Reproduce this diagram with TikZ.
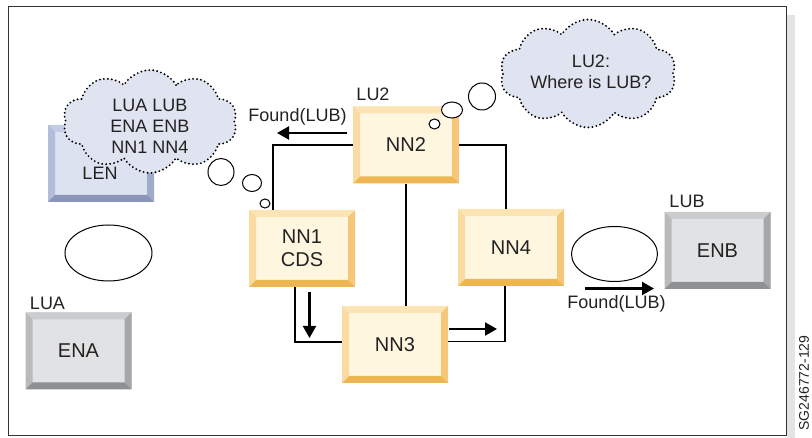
\documentclass[tikz,border=0pt]{standalone}
\usepackage{fontspec}
\setmainfont{Liberation Sans}
\usetikzlibrary{shapes.symbols,shapes.geometric,arrows.meta,calc}
\definecolor{yface}{HTML}{FFF6E0}
\definecolor{ytop}{HTML}{FCE4B4}
\definecolor{yleft}{HTML}{FADCA2}
\definecolor{yright}{HTML}{F4C878}
\definecolor{ybot}{HTML}{EDB652}
\definecolor{gface}{HTML}{E1E2E4}
\definecolor{gtop}{HTML}{CBCCCE}
\definecolor{gleft}{HTML}{B9BABC}
\definecolor{gright}{HTML}{A6A7A9}
\definecolor{gbot}{HTML}{8F9092}
\definecolor{bface}{HTML}{DCE2F0}
\definecolor{btop}{HTML}{C4CDE3}
\definecolor{bleft}{HTML}{B2BDD9}
\definecolor{bright}{HTML}{9FABCB}
\definecolor{bbot}{HTML}{8A95B8}
\definecolor{cloudfill}{HTML}{DFE4F0}
\definecolor{txt}{HTML}{222222}
\definecolor{framecol}{HTML}{333333}
\definecolor{shadowcol}{HTML}{E4E4E4}
\begin{document}
\begin{tikzpicture}[x=1pt,y=-1pt,
  bev/.style n args={5}{draw=none, fill=#1, rectangle, minimum width=106pt, minimum height=77pt, inner sep=0pt,
    text=txt, font=\fontsize{20}{23}\selectfont, align=center,
    path picture={
      \fill[#2] (path picture bounding box.north west) -- (path picture bounding box.north east)
        -- ([shift={(-7pt,-7pt)}]path picture bounding box.north east)
        -- ([shift={(7pt,-7pt)}]path picture bounding box.north west) -- cycle;
      \fill[#3] (path picture bounding box.north west) -- ([shift={(7pt,-7pt)}]path picture bounding box.north west)
        -- ([shift={(7pt,7pt)}]path picture bounding box.south west)
        -- (path picture bounding box.south west) -- cycle;
      \fill[#4] (path picture bounding box.north east) -- ([shift={(-7pt,-7pt)}]path picture bounding box.north east)
        -- ([shift={(-7pt,7pt)}]path picture bounding box.south east)
        -- (path picture bounding box.south east) -- cycle;
      \fill[#5] (path picture bounding box.south west) -- ([shift={(7pt,7pt)}]path picture bounding box.south west)
        -- ([shift={(-7pt,7pt)}]path picture bounding box.south east)
        -- (path picture bounding box.south east) -- cycle;
    }},
  ybox/.style={bev={yface}{ytop}{yleft}{yright}{ybot}},
  gbox/.style={bev={gface}{gtop}{gleft}{gright}{gbot}},
  bbox/.style={bev={bface}{btop}{bleft}{bright}{bbot}},
  lbl/.style={text=txt, font=\fontsize{18}{21}\selectfont, inner sep=0pt, align=center},
  conn/.style={draw=black, line width=1.6pt},
  arr/.style={draw=black, line width=2.2pt, -{Triangle[length=12pt,width=13pt]}},
  bubble/.style={ellipse, draw=black, line width=1pt, fill=white, inner sep=0pt},
  thought/.style={cloud, cloud puffs=10, cloud puff arc=120, cloud ignores aspect, fill=cloudfill,
    draw=black, line width=2.1pt, dash pattern=on 0pt off 4pt, line cap=round, inner sep=0pt}
]
\useasboundingbox (0,0) rectangle (812,438);
% frame
\fill[shadowcol] (787,15) rectangle (795,438);
\draw[framecol, line width=1pt] (8,7) rectangle (786,436);
\node[lbl, rotate=90, font=\fontsize{14}{17}\selectfont] (code) at (804,383) {SG246772-129};

% boxes
\node[bbox] (LEN) at (101,163.5) {};
\node[ybox] (NN2) at (406,145) {NN2};
\node[ybox] (NN1) at (302,248.5) {NN1\\CDS};
\node[ybox] (NN4) at (511,247.5) {NN4};
\node[ybox] (NN3) at (395,344.5) {NN3};
\node[gbox] (ENB) at (717.5,250.5) {ENB};
\node[gbox] (ENA) at (78.5,351) {ENA};

% connectors
\draw[conn] (NN2.west) -| ([xshift=-29pt]NN1.north);
\draw[conn] (NN2.east) -| ([xshift=-5pt]NN4.north);
\draw[conn] (NN2.south) -- (NN2.south |- NN3.north);
\draw[conn] ([xshift=-7pt]NN1.south) |- ([yshift=2.5pt]NN3.west);
\draw[conn] ([yshift=3pt]NN3.east) -| ([xshift=-6pt]NN4.south);

% labels
\node[lbl] (lu2) at (373,94) {LU2};
\node[lbl] (lub) at (687,201) {LUB};
\node[lbl] (lua) at (47.5,303) {LUA};
\node[lbl] (found1) at (297.5,117) {Found(LUB)};
\node[lbl] (found2) at (616.5,304) {Found(LUB)};

% arrows
\coordinate (a1s) at (347,133);
\coordinate (a1e) at (277,133);
\draw[arr] (a1s) -- (a1e);
\coordinate (a2s) at (585,288.5);
\coordinate (a2e) at (654,288.5);
\draw[arr] (a2s) -- (a2e);
\coordinate (a3s) at (309.5,292);
\coordinate (a3e) at (309.5,338);
\draw[arr] (a3s) -- (a3e);
\coordinate (a4s) at (449,329);
\coordinate (a4e) at (497,329);
\draw[arr] (a4s) -- (a4e);

% ellipses
\node[bubble, minimum width=87pt, minimum height=56pt] (ellL) at (108.5,253) {};
\node[bubble, minimum width=86pt, minimum height=55pt] (ellR) at (614.5,254) {};

% clouds
\node[thought, minimum width=174pt, minimum height=103pt] (cloudL) at (150,121.5) {};
\node[lbl] (cloudLtxt) at (150,126) {LUA LUB\\ENA ENB\\NN1 NN4};
\node[lbl] (lentxt) at (100,173) {LEN};
\node[bubble, minimum width=26pt, minimum height=27pt] (bL1) at (221,172) {};
\node[bubble, minimum width=19pt, minimum height=17pt] (bL2) at (252,183) {};
\node[bubble, minimum width=10pt, minimum height=9pt] (bL3) at (265,203.5) {};

\node[thought, minimum width=176pt, minimum height=108pt] (cloudR) at (588,73.5) {};
\node[lbl] (cloudRtxt) at (591,72) {LU2:\\Where is LUB?};
\node[bubble, minimum width=27pt, minimum height=27pt] (bR1) at (482,96.5) {};
\node[bubble, minimum width=21pt, minimum height=16pt] (bR2) at (452,110) {};
\node[bubble, minimum width=11pt, minimum height=10pt] (bR3) at (434.5,124) {};
\end{tikzpicture}
\end{document}
